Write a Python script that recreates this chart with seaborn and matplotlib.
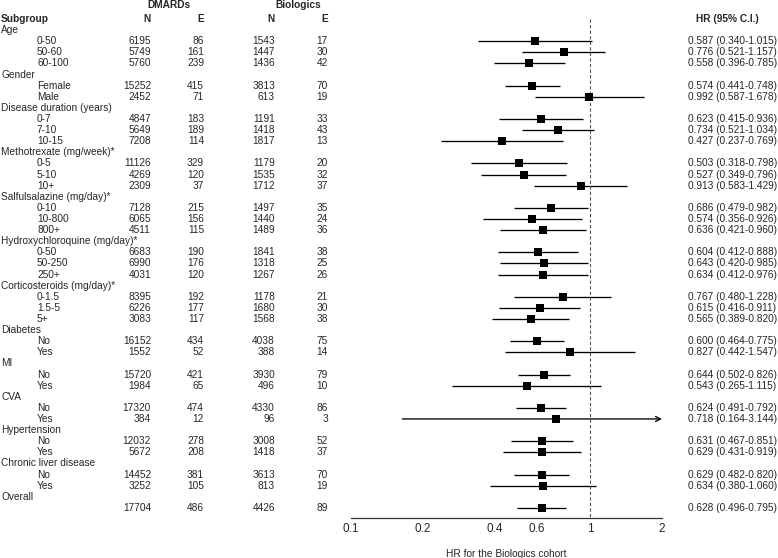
import numpy as np
import pandas as pd
import matplotlib
matplotlib.use('Agg')
import matplotlib.pyplot as plt
import matplotlib.transforms as mtrans
import seaborn as sns

# ── Data ──────────────────────────────────────────────────────
group_names = ["Age", "Gender", "Disease duration (years)", "Methotrexate (mg/week)*",
               "Salfulsalazine (mg/day)*", "Hydroxychloroquine (mg/day)*",
               "Corticosteroids (mg/day)*", "Diabetes", "MI", "CVA", "Hypertension",
               "Chronic liver disease", "Overall"]
group_sizes = [3, 2, 3, 3, 3, 3, 3, 2, 2, 2, 2, 2, 1]
sub_labels = ["0-50", "50-60", "60-100", "Female", "Male", "0-7", "7-10", "10-15",
              "0-5", "5-10", "10+", "0-10", "10-800", "800+", "0-50", "50-250", "250+",
              "0-1.5", "1.5-5", "5+", "No", "Yes", "No", "Yes", "No", "Yes",
              "No", "Yes", "No", "Yes", ""]
dmard_n = [6195, 5749, 5760, 15252, 2452, 4847, 5649, 7208, 11126, 4269, 2309,
           7128, 6065, 4511, 6683, 6990, 4031, 8395, 6226, 3083, 16152, 1552,
           15720, 1984, 17320, 384, 12032, 5672, 14452, 3252, 17704]
dmard_e = [86, 161, 239, 415, 71, 183, 189, 114, 329, 120, 37, 215, 156, 115,
           190, 176, 120, 192, 177, 117, 434, 52, 421, 65, 474, 12, 278, 208,
           381, 105, 486]
bio_n = [1543, 1447, 1436, 3813, 613, 1191, 1418, 1817, 1179, 1535, 1712, 1497,
         1440, 1489, 1841, 1318, 1267, 1178, 1680, 1568, 4038, 388, 3930, 496,
         4330, 96, 3008, 1418, 3613, 813, 4426]
bio_e = [17, 30, 42, 70, 19, 33, 43, 13, 20, 32, 37, 35, 24, 36, 38, 25, 26, 21,
         30, 38, 75, 14, 79, 10, 86, 3, 52, 37, 70, 19, 89]
hr = [0.587, 0.776, 0.558, 0.574, 0.992, 0.623, 0.734, 0.427, 0.503, 0.527, 0.913,
      0.686, 0.574, 0.636, 0.604, 0.643, 0.634, 0.767, 0.615, 0.565, 0.600, 0.827,
      0.644, 0.543, 0.624, 0.718, 0.631, 0.629, 0.629, 0.634, 0.628]
lo = [0.340, 0.521, 0.396, 0.441, 0.587, 0.415, 0.521, 0.237, 0.318, 0.349, 0.583,
      0.479, 0.356, 0.421, 0.412, 0.420, 0.412, 0.480, 0.416, 0.389, 0.464, 0.442,
      0.502, 0.265, 0.491, 0.164, 0.467, 0.431, 0.482, 0.380, 0.496]
hi = [1.015, 1.157, 0.785, 0.748, 1.678, 0.936, 1.034, 0.769, 0.798, 0.796, 1.429,
      0.982, 0.926, 0.960, 0.888, 0.985, 0.976, 1.228, 0.911, 0.820, 0.775, 1.547,
      0.826, 1.115, 0.792, 3.144, 0.851, 0.919, 0.820, 1.060, 0.795]
x_ticks = [0.1, 0.2, 0.4, 0.6, 1, 2]

# ── Row layout ────────────────────────────────────────────────
r = 1
group_rows = []
item_rows = []
for g, size in zip(group_names, group_sizes):
    group_rows.append(r)
    r += 1
    for _ in range(size):
        item_rows.append(r)
        r += 1

df = pd.DataFrame({"row": item_rows, "label": sub_labels, "hr": hr, "lo": lo, "hi": hi,
                   "dn": dmard_n, "de": dmard_e, "bn": bio_n, "be": bio_e})

# ── Style ─────────────────────────────────────────────────────
sns.set_style("white")
plt.rcParams['font.family'] = ['Liberation Sans', 'DejaVu Sans']
FS = 7.3

W, H = 778, 558
x0, x1 = 351, 662          # pixel positions of 0.1 and 2
y_axis = 518
row0, step = 19, 11.11

fig = plt.figure(figsize=(W / 100, H / 100), dpi=100)
ax = fig.add_axes([x0 / W, (H - y_axis) / H, (x1 - x0) / W, y_axis / H])
ax.set_xscale('log')
ax.set_xlim(0.1, 2)
ax.set_ylim((y_axis - row0) / step, -row0 / step)

# CI lines
normal = df["hi"] <= 2
ax.hlines(df.loc[normal, "row"], df.loc[normal, "lo"], df.loc[normal, "hi"],
          color='black', lw=0.95)
for _, rr in df[~normal].iterrows():
    ax.annotate("", xy=(2, rr["row"]), xytext=(rr["lo"], rr["row"]),
                arrowprops=dict(arrowstyle='->', color='black', lw=0.95,
                                shrinkA=0, shrinkB=0, mutation_scale=9),
                annotation_clip=False)

# reference line at HR = 1
ax.vlines(1, 0, (y_axis - row0) / step, color='#555555', lw=0.8,
          linestyles=(0, (3, 2)))

sns.scatterplot(data=df, x="hr", y="row", marker='s', s=40, color='black',
                edgecolor='black', linewidth=0, ax=ax, zorder=3, legend=False)

for s in ['top', 'right', 'left']:
    ax.spines[s].set_visible(False)
ax.spines['bottom'].set_color('#333333')
ax.spines['bottom'].set_linewidth(0.9)
ax.set_yticks([])
ax.set_ylabel("")
ax.set_xticks(x_ticks)
ax.set_xticklabels([str(t) for t in x_ticks], fontsize=8.5)
ax.minorticks_off()
ax.tick_params(axis='x', direction='out', length=3, width=0.9, color='#333333', pad=0.5)
ax.set_xlabel("HR for the Biologics cohort", fontsize=FS, labelpad=10)

# ── Table text ────────────────────────────────────────────────
tr = mtrans.blended_transform_factory(fig.transFigure, ax.transData)

def put(xpx, row, s, ha='left', bold=False):
    ax.text(xpx / W, row, s, transform=tr, ha=ha, va='center', fontsize=FS,
            fontweight='bold' if bold else 'normal', clip_on=False)

put(169, -1.3, "DMARDs", ha='center', bold=True)
put(298, -1.3, "Biologics", ha='center', bold=True)
put(1, 0, "Subgroup", bold=True)
put(151, 0, "N", ha='right', bold=True)
put(204, 0, "E", ha='right', bold=True)
put(275, 0, "N", ha='right', bold=True)
put(328, 0, "E", ha='right', bold=True)
put(727, 0, "HR (95% C.I.)", ha='center', bold=True)

for g, gr in zip(group_names, group_rows):
    put(1, gr, g)

for _, rr in df.iterrows():
    row = rr["row"]
    put(37, row, rr["label"])
    put(151, row, f"{int(rr['dn'])}", ha='right')
    put(204, row, f"{int(rr['de'])}", ha='right')
    put(275, row, f"{int(rr['bn'])}", ha='right')
    put(328, row, f"{int(rr['be'])}", ha='right')
    put(688, row, f"{rr['hr']:.3f} ({rr['lo']:.3f}-{rr['hi']:.3f})")

fig.savefig("out.png", dpi=100)
